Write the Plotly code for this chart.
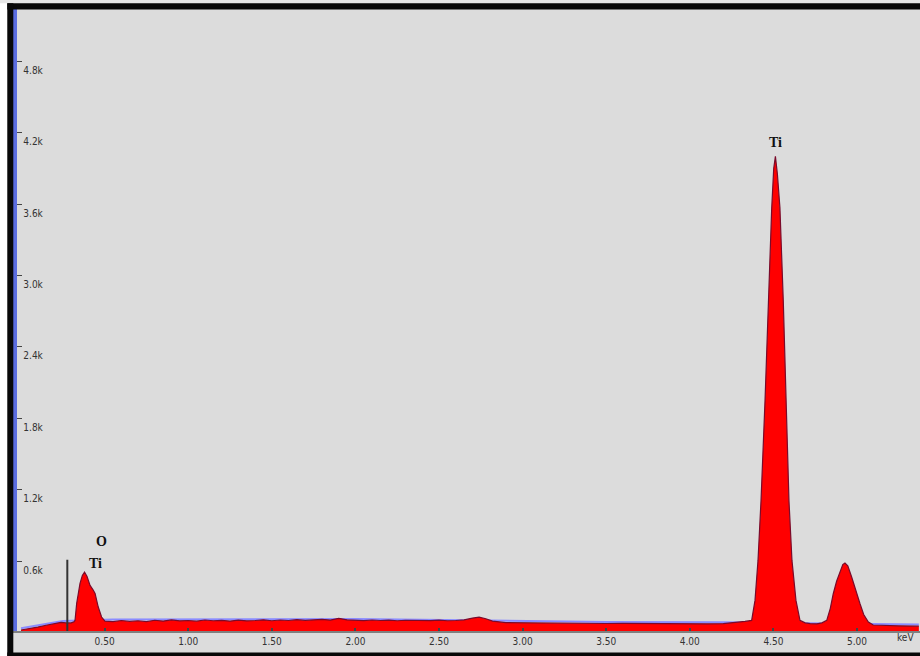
import plotly.graph_objects as go

# Spectrum (energy in keV, counts)
energy_keV = [0.00, 0.05, 0.10, 0.15, 0.20, 0.24, 0.27, 0.30, 0.317, 0.323, 0.333, 0.353, 0.367, 0.380,
              0.395, 0.413, 0.430, 0.443, 0.462, 0.482, 0.502, 0.55, 0.60, 0.65, 0.70, 0.75, 0.80, 0.85,
              0.90, 0.95, 1.00, 1.05, 1.10, 1.15, 1.20, 1.25, 1.30, 1.35, 1.40, 1.45, 1.50, 1.55, 1.60,
              1.65, 1.70, 1.75, 1.80, 1.85, 1.90, 1.95, 2.00, 2.05, 2.10, 2.15, 2.20, 2.25, 2.30, 2.35,
              2.40, 2.45, 2.50, 2.55, 2.60, 2.65, 2.70, 2.74, 2.78, 2.82, 2.90, 3.00, 3.10, 3.20, 3.30,
              3.40, 3.50, 3.60, 3.70, 3.80, 3.90, 4.00, 4.10, 4.20, 4.28, 4.33, 4.370, 4.390, 4.408,
              4.426, 4.450, 4.469, 4.490, 4.502, 4.512, 4.524, 4.539, 4.559, 4.575, 4.593, 4.611, 4.635,
              4.659, 4.69, 4.72, 4.76, 4.79, 4.819, 4.84, 4.858, 4.878, 4.898, 4.915, 4.928, 4.945,
              4.968, 4.99, 5.018, 5.04, 5.068, 5.097, 5.15, 5.25, 5.37]
counts = [20, 30, 45, 60, 75, 85, 80, 80, 90, 100, 244, 412, 479, 507,
          470, 395, 360, 328, 213, 129, 95, 90, 100, 92, 98, 90, 102, 95,
          105, 97, 100, 94, 104, 98, 101, 95, 103, 97, 100, 106, 98, 104, 100,
          107, 101, 106, 110, 104, 118, 106, 103, 99, 104, 100, 103, 98, 102, 100,
          104, 99, 103, 98, 100, 105, 120, 128, 115, 95, 82, 80, 78, 79, 76,
          77, 75, 76, 74, 75, 72, 73, 72, 74, 82, 92, 101, 269, 605,
          1109, 1950, 2790, 3571, 3900, 4000, 3850, 3571, 2790, 1950, 1109, 605, 269,
          101, 80, 73, 72, 80, 101, 200, 325, 430, 507, 570, 583, 560,
          465, 360, 241, 150, 87, 62, 58, 55, 52]

# Overlay background line (blue)
bg_keV = [0.00, 0.25, 0.55, 1.00, 2.00, 2.80, 3.50, 4.20, 5.10, 5.37]
bg_counts = [35, 95, 108, 110, 112, 100, 88, 86, 70, 66]

# Element marker line (carbon position)
mark_keV = [0.277]
mark_counts = [611]

x_tickvals = [0.5, 1.0, 1.5, 2.0, 2.5, 3.0, 3.5, 4.0, 4.5, 5.0]
x_ticktext = ["0.50", "1.00", "1.50", "2.00", "2.50", "3.00", "3.50", "4.00", "4.50", "5.00"]
y_tickvals = [600, 1200, 1800, 2400, 3000, 3600, 4200, 4800]
y_ticktext = ["0.6k", "1.2k", "1.8k", "2.4k", "3.0k", "3.6k", "4.2k", "4.8k"]

labels = [("Ti", 4.51, 4115), ("O", 0.483, 762), ("Ti", 0.447, 580)]

W, H = 920, 656
X0_PX = 17.3      # left edge of plot area (px)
Y0_PX = 631.0     # bottom edge of plot area (px)
KEV_PX = 167.2    # px per keV
ZERO_KEV_PX = 21  # px of 0 keV
CNT_PX = 0.119    # px per count
ZERO_CNT_PX = 632.4

fig = go.Figure()
fig.add_trace(go.Scatter(x=bg_keV, y=bg_counts, mode="lines",
                         line=dict(color="#8a8cff", width=2), hoverinfo="skip"))
fig.add_trace(go.Scatter(x=energy_keV, y=counts, mode="lines", fill="tozeroy",
                         fillcolor="#ff0000", line=dict(color="#7a0a2a", width=1.2)))
for xv, yv in zip(mark_keV, mark_counts):
    fig.add_trace(go.Scatter(x=[xv, xv], y=[0, yv], mode="lines",
                             line=dict(color="#333333", width=2), hoverinfo="skip"))

for txt, xv, yv in labels:
    fig.add_annotation(x=xv, y=yv, text="<b>" + txt + "</b>", showarrow=False,
                       font=dict(family="Liberation Serif, DejaVu Serif", size=14, color="#111111"))
fig.add_annotation(x=5.29, y=(H - 645) / H, yref="paper", text="keV", showarrow=False,
                   font=dict(family="Liberation Sans Narrow, DejaVu Sans Condensed", size=10, color="#333333"))

tick_font = dict(family="Liberation Sans Narrow, DejaVu Sans Condensed", size=10, color="#333333")

fig.update_layout(
    width=W, height=H, margin=dict(l=0, r=0, t=0, b=0),
    paper_bgcolor="#dcdcdc", plot_bgcolor="#dcdcdc", showlegend=False,
    xaxis=dict(domain=[X0_PX / W, 1],
               range=[(X0_PX - ZERO_KEV_PX) / KEV_PX, (W - ZERO_KEV_PX) / KEV_PX],
               showgrid=False, zeroline=False, showline=True, linecolor="#7f7f7f", linewidth=2,
               tickvals=x_tickvals, ticktext=x_ticktext, ticks="inside", ticklen=3, tickwidth=2,
               tickcolor="#444444", tickfont=tick_font),
    yaxis=dict(domain=[(H - Y0_PX) / H, 1 - 6 / H],
               range=[(ZERO_CNT_PX - Y0_PX) / CNT_PX, (ZERO_CNT_PX - 6) / CNT_PX],
               showgrid=False, zeroline=False, showline=True, linecolor="#5b6de0", linewidth=4,
               tickvals=y_tickvals, ticktext=y_ticktext, ticks="inside", ticklen=5, tickwidth=1,
               tickcolor="#444444", ticklabelposition="inside", ticklabelshift=9, tickfont=tick_font),
)

# Frame decorations (paper pixel coordinates)
def px(x):
    return x / W

def py(y):
    return 1 - y / H

fig.add_shape(type="rect", xref="paper", yref="paper", x0=0, x1=px(7.3), y0=0, y1=1,
              fillcolor="#ffffff", line_width=0, layer="above")
fig.add_shape(type="rect", xref="paper", yref="paper", x0=0, x1=1, y0=py(3.3), y1=1,
              fillcolor="#e6e6e6", line_width=0, layer="above")
fig.add_shape(type="rect", xref="paper", yref="paper", x0=px(7.3), x1=1, y0=py(9.5), y1=py(3.3),
              fillcolor="#080808", line_width=0, layer="above")
fig.add_shape(type="rect", xref="paper", yref="paper", x0=px(7.3), x1=px(13.3), y0=0, y1=py(3.3),
              fillcolor="#080808", line_width=0, layer="above")
fig.add_shape(type="rect", xref="paper", yref="paper", x0=px(7.3), x1=1, y0=0, y1=py(652.5),
              fillcolor="#080808", line_width=0, layer="above")

fig.write_html("out.html", config={"displayModeBar": False},
               post_script="document.body.style.margin='0';document.body.style.overflow='hidden';")
